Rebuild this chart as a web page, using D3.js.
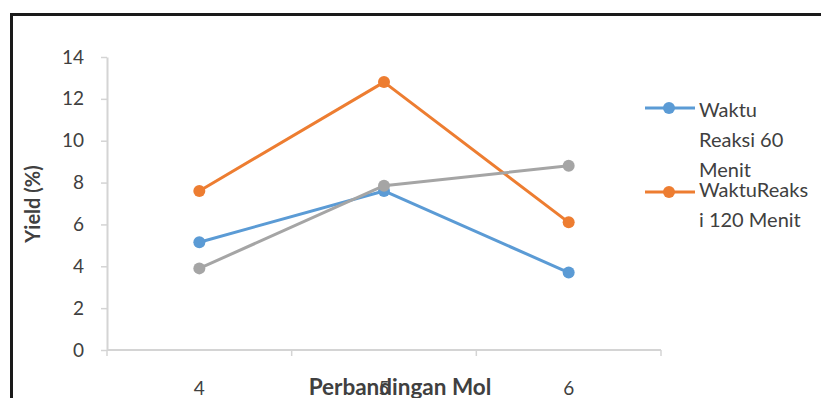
<!DOCTYPE html>
<html>
<head>
<meta charset="utf-8">
<script src="https://cdn.jsdelivr.net/npm/d3@7"></script>
<style>
  html, body { margin: 0; padding: 0; background: #fff; overflow: hidden; }
  svg { display: block; }
  text { font-family: Lato, "Open Sans", sans-serif; }
</style>
</head>
<body>
<svg id="chart" width="821" height="398"></svg>
<script>
// Molar ratio categories and yield series (%)
const categories = ["4", "5", "6"];
const seriesNames = ["Waktu Reaksi 60 Menit", "WaktuReaksi 120 Menit", "Waktu Reaksi 180 Menit"];
const yield60 = [5.15, 7.6, 3.7];
const yield120 = [7.6, 12.8, 6.1];
const yield180 = [3.9, 7.85, 8.8];
const yTicks = [0, 2, 4, 6, 8, 10, 12, 14];
const colors = ["#5B9BD5", "#ED7D31", "#A5A5A5"];

const series = [
  { name: seriesNames[0], values: yield60, color: colors[0] },
  { name: seriesNames[1], values: yield120, color: colors[1] },
  { name: seriesNames[2], values: yield180, color: colors[2] }
];

const svg = d3.select("#chart");
const textColor = "#404040";

// Outer chart frame (only top and left edges fall inside the view)
svg.append("rect")
  .attr("x", 11.5).attr("y", 14.5)
  .attr("width", 830).attr("height", 420)
  .attr("fill", "#fff")
  .attr("stroke", "#1a1a1a")
  .attr("stroke-width", 3);

const plot = { left: 107, right: 661, top: 57, bottom: 350 };

const x = d3.scaleBand().domain(categories).range([plot.left, plot.right]).paddingInner(0).paddingOuter(0);
const y = d3.scaleLinear().domain([0, 14]).range([plot.bottom, plot.top]);
const cx = c => x(c) + x.bandwidth() / 2;

// Y axis
const yAxis = svg.append("g")
  .attr("transform", `translate(${plot.left},0)`)
  .call(d3.axisLeft(y).tickValues(yTicks).tickSize(6).tickPadding(17).tickSizeOuter(0));
yAxis.select(".domain").attr("stroke", "#d4d4d4").attr("stroke-width", 2);
yAxis.selectAll(".tick line").attr("stroke", "#d4d4d4").attr("stroke-width", 1.5);
yAxis.selectAll(".tick text")
  .attr("fill", textColor)
  .style("font-size", "19px")
  .style("font-family", "Lato, 'Open Sans', sans-serif");

// X axis with ticks at category boundaries
const xAxis = svg.append("g")
  .attr("transform", `translate(0,${plot.bottom})`);
xAxis.append("line")
  .attr("x1", plot.left).attr("x2", plot.right)
  .attr("stroke", "#d4d4d4").attr("stroke-width", 2);
const boundaries = categories.map(c => x(c)).concat([plot.right]);
xAxis.selectAll("line.tick")
  .data(boundaries)
  .join("line")
  .attr("class", "tick")
  .attr("x1", d => d).attr("x2", d => d)
  .attr("y1", 0).attr("y2", 6)
  .attr("stroke", "#d4d4d4").attr("stroke-width", 1.5);
xAxis.selectAll("text.cat")
  .data(categories)
  .join("text")
  .attr("class", "cat")
  .attr("x", d => cx(d))
  .attr("y", 45)
  .attr("text-anchor", "middle")
  .attr("fill", textColor)
  .style("font-size", "19px")
  .text(d => d);

// Axis titles
svg.append("text")
  .attr("transform", "translate(40,204) rotate(-90)")
  .attr("text-anchor", "middle")
  .attr("fill", textColor)
  .style("font-size", "20px")
  .style("font-weight", "bold")
  .text("Yield (%)");

// Axis title drawn over the middle category label
svg.append("text")
  .attr("x", 400).attr("y", 395)
  .attr("text-anchor", "middle")
  .attr("fill", textColor)
  .style("font-size", "22.5px")
  .style("font-weight", "bold")
  .text("Perbandingan Mol");

// Series lines and markers
const line = d3.line().x((d, i) => cx(categories[i])).y(d => y(d));
const g = svg.append("g");
series.forEach(s => {
  g.append("path")
    .datum(s.values)
    .attr("d", line)
    .attr("fill", "none")
    .attr("stroke", s.color)
    .attr("stroke-width", 3)
    .attr("stroke-linejoin", "round");
  g.selectAll(null)
    .data(s.values)
    .join("circle")
    .attr("cx", (d, i) => cx(categories[i]))
    .attr("cy", d => y(d))
    .attr("r", 6)
    .attr("fill", s.color);
});

// Legend (wrapped labels)
const legendRows = [
  { color: colors[0], lines: ["Waktu", "Reaksi 60", "Menit"], y: 108, base: [117, 147, 177] },
  { color: colors[1], lines: ["WaktuReaks", "i 120 Menit"], y: 192, base: [197, 227] }
];
const legend = svg.append("g");
legendRows.forEach(r => {
  legend.append("line")
    .attr("x1", 645).attr("x2", 695)
    .attr("y1", r.y).attr("y2", r.y)
    .attr("stroke", r.color).attr("stroke-width", 3);
  legend.append("circle")
    .attr("cx", 669).attr("cy", r.y).attr("r", 6)
    .attr("fill", r.color);
  r.lines.forEach((ln, i) => {
    legend.append("text")
      .attr("x", 699).attr("y", r.base[i])
      .attr("fill", textColor)
      .style("font-size", "20px")
      .text(ln);
  });
});
</script>
</body>
</html>
